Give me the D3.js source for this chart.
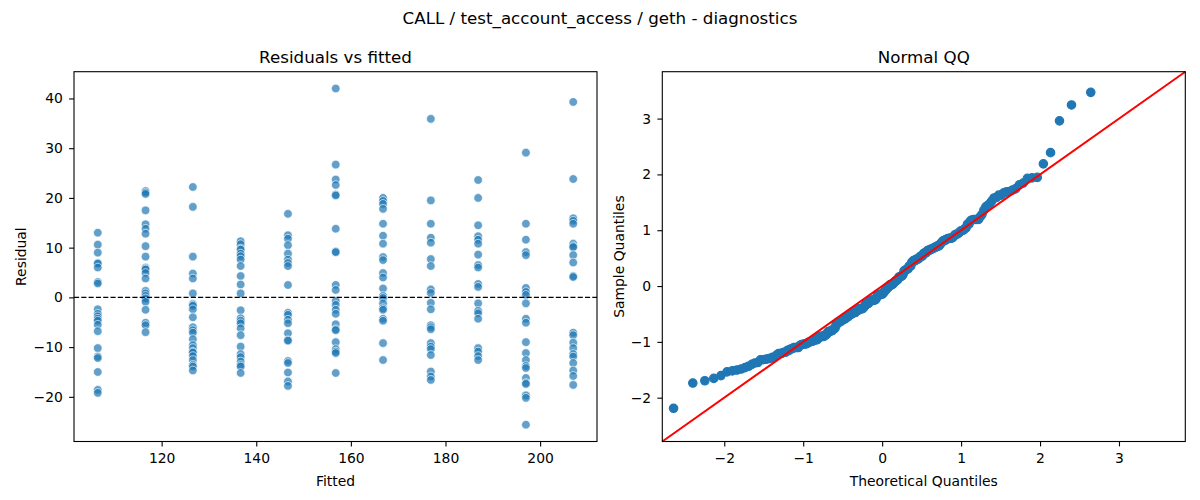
<!DOCTYPE html>
<html>
<head>
<meta charset="utf-8">
<script src="https://cdn.jsdelivr.net/npm/d3@7"></script>
<style>
  body { margin: 0; background: #fff; }
  svg text { font-family: 'DejaVu Sans', sans-serif; fill: #000; }
</style>
</head>
<body>
<svg id="chart" width="1200" height="500"></svg>
<script>
const suptitle = 'CALL / test_account_access / geth - diagnostics';

// one column of residuals per fitted value
const fitted = [106.5, 116.6, 126.6, 136.7, 146.7, 156.8, 166.8, 176.9, 186.9, 197.0, 207.0];
const residuals = [
  [13.0, 10.6, 9.0, 6.9, 6.8, 6.0, 3.1, 2.8, -2.4, -3.3, -3.8, -4.3, -4.7, -5.5, -6.8, -10.2, -11.9, -12.2, -15.0, -18.6, -19.2],
  [21.4, 21.1, 20.8, 17.5, 14.7, 13.8, 12.8, 10.3, 8.2, 6.0, 5.8, 5.6, 4.9, 3.8, 1.3, 0.8, 0.3, -0.4, -0.2, -0.9, -2.5, -5.1, -5.6, -7.0],
  [22.2, 18.2, 8.2, 4.8, 3.8, 0.8, -1.3, -1.5, -1.7, -2.4, -4.0, -6.0, -6.6, -7.1, -8.4, -9.6, -10.2, -10.9, -11.1, -11.8, -12.6, -13.6, -13.9, -14.7],
  [11.3, 10.7, 9.8, 9.6, 8.8, 8.3, 7.6, 6.3, 4.3, 2.6, 0.8, -2.6, -4.2, -4.7, -5.2, -6.2, -7.6, -9.9, -11.4, -12.0, -12.9, -13.6, -13.9, -15.2],
  [16.8, 12.5, 11.8, 10.5, 8.8, 7.6, 6.9, 6.3, 2.5, -3.1, -3.5, -4.5, -5.2, -7.2, -8.6, -8.7, -12.8, -13.2, -15.1, -16.9, -17.8],
  [42.0, 26.7, 23.7, 22.6, 20.7, 20.5, 13.8, 9.2, 9.1, 2.5, 1.5, -0.7, -1.5, -2.5, -3.3, -5.4, -6.4, -6.6, -9.0, -10.4, -10.9, -11.2, -15.2],
  [20.0, 19.4, 18.8, 17.8, 14.8, 12.4, 10.8, 8.1, 7.5, 4.9, 4.0, 1.8, 0.3, -0.1, -1.2, -2.2, -2.5, -4.3, -4.7, -9.2, -12.6],
  [35.9, 19.5, 14.8, 12.0, 11.0, 7.7, 6.3, 1.6, 0.9, -1.1, -2.4, -5.6, -6.0, -6.4, -9.2, -9.9, -10.4, -11.6, -14.9, -15.9, -16.6],
  [23.6, 20.0, 14.5, 12.3, 11.6, 10.8, 8.6, 6.5, 6.0, 2.7, 2.1, -1.2, -2.7, -3.2, -4.3, -10.2, -10.9, -11.8, -12.6],
  [29.1, 14.8, 11.6, 9.1, 8.5, 1.9, 1.1, 0.5, -1.2, -4.3, -5.1, -9.0, -11.2, -12.6, -13.8, -14.2, -16.2, -17.2, -17.4, -19.7, -20.2, -25.6],
  [39.3, 23.8, 15.9, 15.4, 14.8, 10.8, 10.3, 10.1, 8.5, 7.0, 4.3, 4.1, -7.1, -7.6, -9.1, -10.2, -11.4, -11.9, -13.2, -14.7, -15.8, -17.6],
];

const fittedTicks = [120, 140, 160, 180, 200];
const residualTicks = [-20, -10, 0, 10, 20, 30, 40];
const qqTicks = [-2, -1, 0, 1, 2, 3];
const qqLimits = [-2.785, 3.84];

const blue = '#1f77b4';
const tickFont = 13.9;
const titleFont = 16.7;

const svg = d3.select('#chart');

const leftBox = {left: 74, right: 597, top: 71.7, bottom: 441.5};
const rightBox = {left: 662.3, right: 1185.3, top: 71.7, bottom: 441.5};

// inverse normal cdf (Acklam) for the theoretical quantiles
function normalQuantile(p) {
  const a = [-39.69683028665376, 220.9460984245205, -275.9285104469687, 138.3577518672690, -30.66479806614716, 2.506628277459239];
  const b = [-54.47609879822406, 161.5858368580409, -155.6989798598866, 66.80131188771972, -13.28068155288572];
  const c = [-0.007784894002430293, -0.3223964580411365, -2.400758277161838, -2.549732539343734, 4.374664141464968, 2.938163982698783];
  const d = [0.007784695709041462, 0.3224671290700398, 2.445134137142996, 3.754408661907416];
  const pLow = 0.02425;
  let q;
  let r;
  if (p < pLow) {
    q = Math.sqrt(-2 * Math.log(p));
    return (((((c[0] * q + c[1]) * q + c[2]) * q + c[3]) * q + c[4]) * q + c[5]) /
      ((((d[0] * q + d[1]) * q + d[2]) * q + d[3]) * q + 1);
  }
  if (p <= 1 - pLow) {
    q = p - 0.5;
    r = q * q;
    return (((((a[0] * r + a[1]) * r + a[2]) * r + a[3]) * r + a[4]) * r + a[5]) * q /
      (((((b[0] * r + b[1]) * r + b[2]) * r + b[3]) * r + b[4]) * r + 1);
  }
  q = Math.sqrt(-2 * Math.log(1 - p));
  return -(((((c[0] * q + c[1]) * q + c[2]) * q + c[3]) * q + c[4]) * q + c[5]) /
    ((((d[0] * q + d[1]) * q + d[2]) * q + d[3]) * q + 1);
}

function padded(extent) {
  const pad = (extent[1] - extent[0]) * 0.05;
  return [extent[0] - pad, extent[1] + pad];
}

function frame(box) {
  svg.append('rect')
      .attr('x', box.left)
      .attr('y', box.top)
      .attr('width', box.right - box.left)
      .attr('height', box.bottom - box.top)
      .attr('fill', 'none')
      .attr('stroke', '#000')
      .attr('stroke-width', 1.1);
}

function drawAxes(box, x, y, xTicks, yTicks, xLabel, yLabel, yLabelX, title) {
  const fmt = d3.format('d');
  const gx = svg.append('g')
      .attr('transform', 'translate(0,' + box.bottom + ')')
      .call(d3.axisBottom(x).tickValues(xTicks).tickFormat(fmt)
          .tickSize(4.9).tickPadding(7.2).tickSizeOuter(0));
  const gy = svg.append('g')
      .attr('transform', 'translate(' + box.left + ',0)')
      .call(d3.axisLeft(y).tickValues(yTicks).tickFormat(fmt)
          .tickSize(4.9).tickPadding(6.2).tickSizeOuter(0));

  [gx, gy].forEach(function(g) {
    g.select('.domain').remove();
    g.selectAll('.tick line').attr('stroke', '#000').attr('stroke-width', 1.1);
    g.selectAll('.tick text')
        .style('font-size', tickFont + 'px')
        .style('font-family', 'DejaVu Sans, sans-serif')
        .attr('fill', '#000');
  });

  const cx = (box.left + box.right) / 2;
  const cy = (box.top + box.bottom) / 2;

  svg.append('text')
      .attr('x', cx)
      .attr('y', 485.5)
      .attr('text-anchor', 'middle')
      .style('font-size', tickFont + 'px')
      .text(xLabel);

  svg.append('text')
      .attr('transform', 'translate(' + yLabelX + ',' + cy + ') rotate(-90)')
      .attr('text-anchor', 'middle')
      .style('font-size', tickFont + 'px')
      .text(yLabel);

  svg.append('text')
      .attr('x', cx)
      .attr('y', 63.2)
      .attr('text-anchor', 'middle')
      .style('font-size', titleFont + 'px')
      .text(title);

  frame(box);
}

svg.append('text')
    .attr('x', 600)
    .attr('y', 24)
    .attr('text-anchor', 'middle')
    .style('font-size', titleFont + 'px')
    .text(suptitle);

// residuals vs fitted
const points = [];
fitted.forEach(function(f, i) {
  residuals[i].forEach(function(r) {
    points.push({fitted: f, resid: r});
  });
});

const xFit = d3.scaleLinear()
    .domain(padded(d3.extent(fitted)))
    .range([leftBox.left, leftBox.right]);
const yRes = d3.scaleLinear()
    .domain(padded(d3.extent(points, (d) => d.resid)))
    .range([leftBox.bottom, leftBox.top]);

svg.append('g')
    .selectAll('circle')
    .data(points)
    .join('circle')
    .attr('cx', (d) => xFit(d.fitted))
    .attr('cy', (d) => yRes(d.resid))
    .attr('r', 4.3)
    .attr('fill', blue)
    .attr('fill-opacity', 0.7)
    .attr('stroke', '#fff')
    .attr('stroke-opacity', 0.7)
    .attr('stroke-width', 0.9);

svg.append('line')
    .attr('x1', leftBox.left)
    .attr('x2', leftBox.right)
    .attr('y1', yRes(0))
    .attr('y2', yRes(0))
    .attr('stroke', '#000')
    .attr('stroke-width', 1.3)
    .attr('stroke-dasharray', '5.1,2.2');

drawAxes(leftBox, xFit, yRes, fittedTicks, residualTicks, 'Fitted', 'Residual', 26, 'Residuals vs fitted');

// normal QQ of the same residuals, standardised
const allResid = points.map((d) => d.resid).sort(d3.ascending);
const n = allResid.length;
const mean = d3.mean(allResid);
const sd = Math.sqrt(d3.mean(allResid, (v) => (v - mean) * (v - mean)));
const qq = allResid.map(function(v, i) {
  return {theo: normalQuantile((i + 1) / (n + 1)), sample: (v - mean) / sd};
});

const xQ = d3.scaleLinear().domain(qqLimits).range([rightBox.left, rightBox.right]);
const yQ = d3.scaleLinear().domain(qqLimits).range([rightBox.bottom, rightBox.top]);

svg.append('g')
    .selectAll('circle')
    .data(qq)
    .join('circle')
    .attr('cx', (d) => xQ(d.theo))
    .attr('cy', (d) => yQ(d.sample))
    .attr('r', 4.2)
    .attr('fill', blue)
    .attr('stroke', blue)
    .attr('stroke-width', 1.2);

svg.append('line')
    .attr('x1', xQ(qqLimits[0]))
    .attr('y1', yQ(qqLimits[0]))
    .attr('x2', xQ(qqLimits[1]))
    .attr('y2', yQ(qqLimits[1]))
    .attr('stroke', 'red')
    .attr('stroke-width', 2);

drawAxes(rightBox, xQ, yQ, qqTicks, qqTicks, 'Theoretical Quantiles', 'Sample Quantiles', 623.5, 'Normal QQ');
</script>
</body>
</html>
